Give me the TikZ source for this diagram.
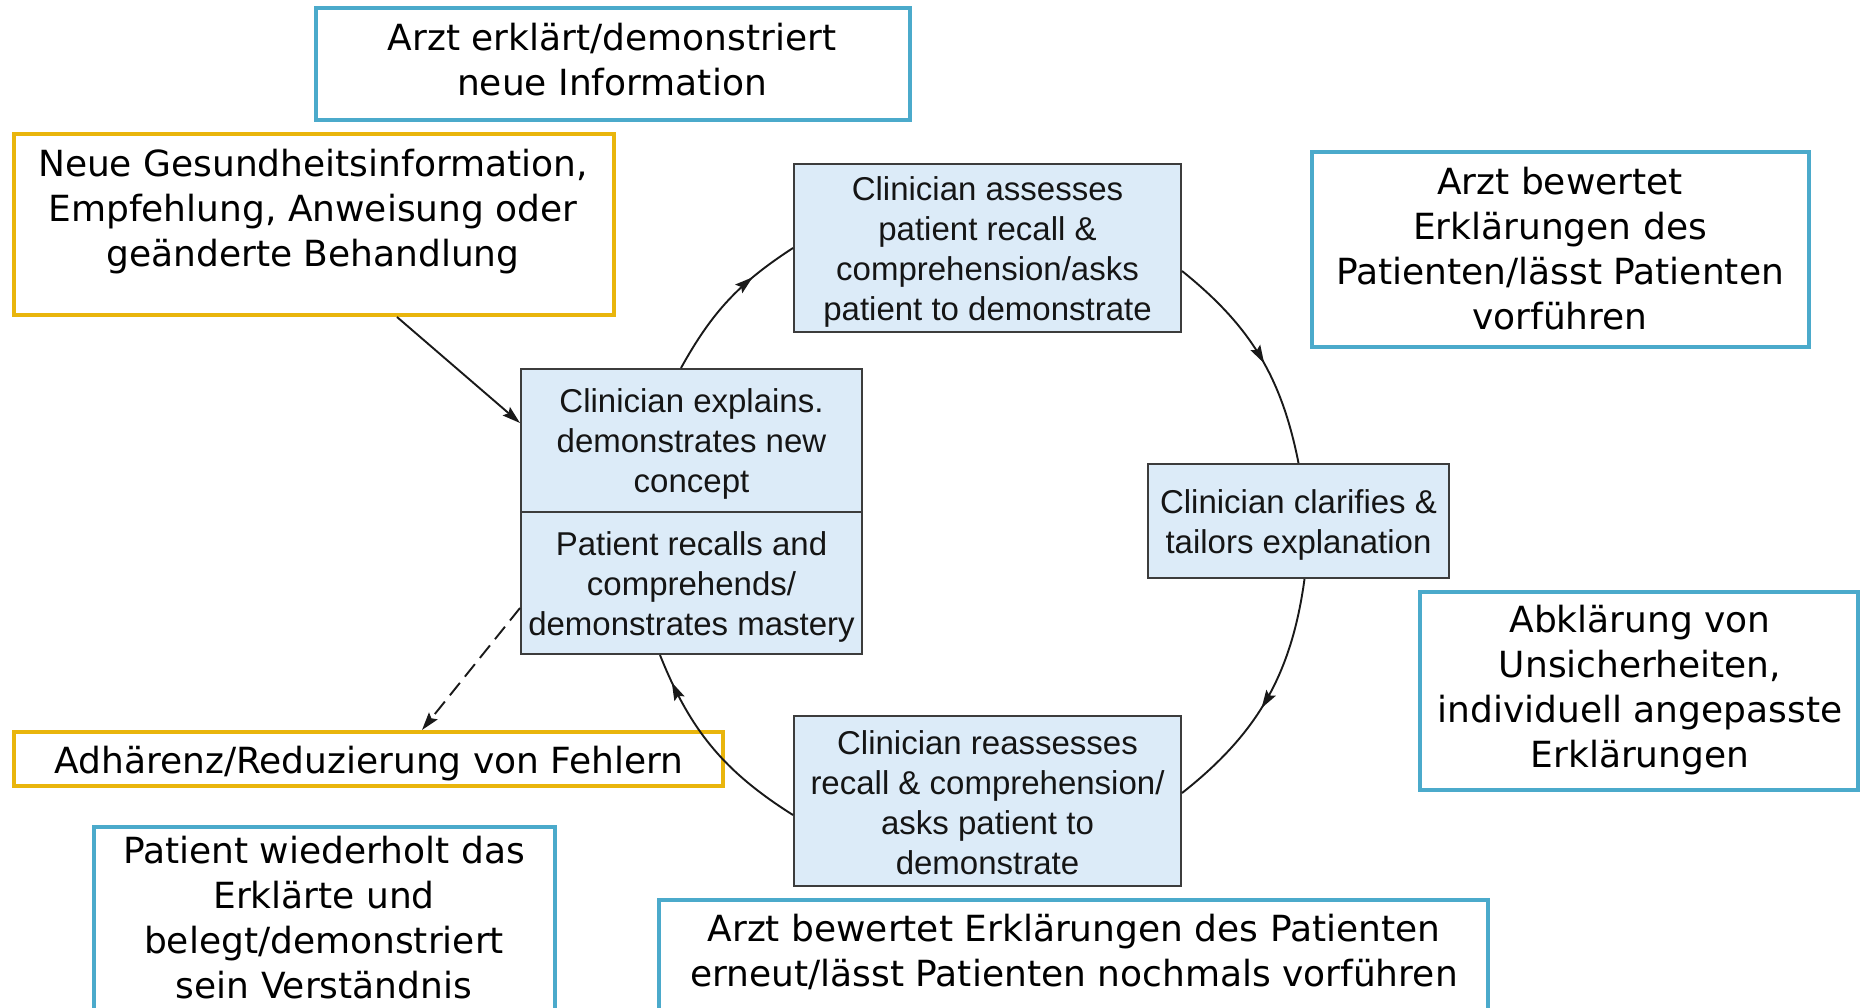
\documentclass[tikz,border=0pt]{standalone}
\usepackage{fontspec}
\setmainfont{DejaVu Sans}
\newfontfamily\enfont{Liberation Sans}
\usetikzlibrary{arrows.meta,calc,decorations.markings}
\definecolor{frameblue}{HTML}{4BAACB}
\definecolor{frameyellow}{HTML}{E9B50C}
\definecolor{cellfill}{HTML}{DCEBF8}
\definecolor{cellline}{HTML}{3C3C3C}
\definecolor{cellink}{HTML}{151515}
\begin{document}
\begin{tikzpicture}[x=0.5pt,y=-0.5pt,
  bluebox/.style={draw=frameblue, line width=2pt, inner sep=0pt},
  yellowbox/.style={draw=frameyellow, line width=2pt, inner sep=0pt},
  gtext/.style={align=center, font=\fontsize{18}{22.5}\selectfont, inner sep=0pt},
  cell/.style={draw=cellline, fill=cellfill, line width=1pt, inner sep=0pt},
  celltext/.style={align=center, text=cellink, font=\enfont\fontsize{16.5}{20}\selectfont, inner sep=0pt},
  flow/.style={draw=black!90, line width=0.95pt},
  tipstyle/.style={-{Stealth[length=9pt,width=5.5pt,inset=1.5pt]}},
  midarrow/.style={postaction={decorate}, decoration={markings,
    mark=at position #1 with {\arrow{Stealth[length=9pt,width=5.5pt,inset=1.5pt]}}}},
]
\useasboundingbox (0,0) rectangle (1861,1007);
\clip (0,0) rectangle (1861,1007);
\fill[white] (0,0) rectangle (1861,1007);

% German annotation frames
\node[bluebox, minimum width=297pt, minimum height=56pt] (A) at (613,64) {};
\node[gtext] (Atext) at (612,60) {Arzt erklärt/demonstriert\\neue Information};

\node[yellowbox, minimum width=300pt, minimum height=90.5pt] (B) at (314,224.5) {};
\node[gtext] (Btext) at (313,211.5) {Neue Gesundheitsinformation,\\Empfehlung, Anweisung oder\\geänderte Behandlung};

\node[bluebox, minimum width=248.5pt, minimum height=97.5pt] (C) at (1560.5,249.5) {};
\node[gtext] (Ctext) at (1560,249) {Arzt bewertet\\Erklärungen des\\Patienten/lässt Patienten\\vorführen};

\node[bluebox, minimum width=219pt, minimum height=99pt] (D) at (1639,691) {};
\node[gtext] (Dtext) at (1640,690.5) {Abklärung von\\Unsicherheiten,\\individuell angepasste\\Erklärungen};

\node[yellowbox, minimum width=354.5pt, minimum height=27pt] (E) at (368.5,759) {};
\node[gtext] (Etext) at (369,764) {Adhärenz/Reduzierung von Fehlern};

\node[bluebox, minimum width=230.5pt, minimum height=106.5pt] (F) at (324.5,933.5) {};
\node[gtext] (Ftext) at (324,918) {Patient wiederholt das\\Erklärte und\\belegt/demonstriert\\sein Verständnis};

\node[bluebox, minimum width=414.5pt, minimum height=70pt] (G) at (1073.5,970) {};
\node[gtext] (Gtext) at (1074,951.5) {Arzt bewertet Erklärungen des Patienten\\erneut/lässt Patienten nochmals vorführen};

% Cycle cells
\node[cell, minimum width=193.5pt, minimum height=84pt] (assess) at (987.5,248) {};
\node[celltext] (assesstext) at (987.5,252)
  {Clinician assesses\\patient recall \&\\comprehension/asks\\patient to demonstrate};
\node[cell, minimum width=170.5pt, minimum height=71.5pt] (expl) at (691.5,440.5) {};
\node[celltext] (expltext) at (691.5,444)
  {Clinician explains.\\demonstrates new\\concept};
\node[cell, minimum width=170.5pt, minimum height=71pt] (recall) at (691.5,583) {};
\node[celltext] (recalltext) at (691.5,586.5)
  {Patient recalls and\\comprehends/\\demonstrates mastery};
\node[cell, minimum width=150.5pt, minimum height=57pt] (clar) at (1298.5,521) {};
\node[celltext] (clartext) at (1298.5,524.5)
  {Clinician clarifies \&\\tailors explanation};
\node[cell, minimum width=193.5pt, minimum height=85pt] (reassess) at (987.5,801) {};
\node[celltext] (reassesstext) at (987.5,803)
  {Clinician reassesses\\recall \& comprehension/\\asks patient to\\demonstrate};

% Connectors
\draw[flow, tipstyle] ($(B.south west)+(385,0)$) -- ($(expl.north west)+(0,55)$);
\draw[flow, dashed, dash pattern=on 8pt off 4pt, tipstyle] ($(recall.north west)+(0,97)$) -- ($(E.north west)+(410,0)$);
\draw[flow, midarrow=0.7] ($(expl.north west)+(161,0)$) to[bend left=14] (assess.west);
\draw[flow, midarrow=0.54] ($(assess.east)+(0,23)$) to[bend left=20] (clar.north);
\draw[flow, midarrow=0.54] ($(clar.south)+(6,0)$) to[bend left=22] ($(reassess.east)+(0,-8)$);
\draw[flow, midarrow=0.86] ($(reassess.west)+(0,14)$) to[bend left=18] ($(recall.south west)+(140,0)$);
\end{tikzpicture}
\end{document}
